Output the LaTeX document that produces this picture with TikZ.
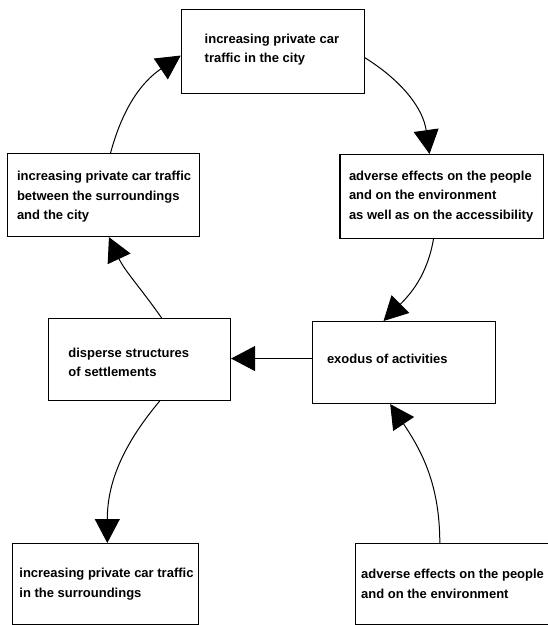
\documentclass[tikz,border=0pt]{standalone}
\usepackage{fontspec}
\setmainfont{Liberation Sans}
\usetikzlibrary{arrows.meta}
\begin{document}
\begin{tikzpicture}[x=1pt,y=1pt,
  box/.style={draw=black, line width=1.1pt, rectangle, inner sep=0pt, anchor=north west},
  txt/.style={anchor=west, inner sep=0pt, align=left, font=\fontsize{13}{19.5}\selectfont\bfseries},
  arr/.style={draw=black, line width=1pt, -{Triangle[length=24pt,width=25pt]}}]
\clip (0,0) rectangle (548,-625);
\fill[white] (0,0) rectangle (548,-625);
% boxes
\node[box, minimum width=182.8pt, minimum height=84pt] (b1) at (180.7,-9) {};
\node[box, minimum width=203.1pt, minimum height=84pt] (b2) at (339.4,-154) {};
\node[box, minimum width=192.2pt, minimum height=83pt] (b3) at (7,-153) {};
\node[box, minimum width=181.8pt, minimum height=82pt] (b4) at (48.2,-318) {};
\node[box, minimum width=182.5pt, minimum height=82pt] (b5) at (312.1,-321) {};
\node[box, minimum width=186.5pt, minimum height=81pt] (b6) at (11.5,-543) {};
\node[box, minimum width=215pt, minimum height=81pt] (b7) at (354.8,-543) {};
% texts
\node[txt] (t1) at ([xshift=23.8pt,yshift=2pt]b1.west) {increasing private car\\traffic in the city};
\node[txt] (t2) at ([xshift=9.4pt]b2.west) {adverse effects on the people\\and on the environment\\as well as on the accessibility};
\node[txt] (t3) at ([xshift=9.8pt,yshift=-2pt]b3.west) {increasing private car traffic\\between the surroundings\\and the city};
\node[txt] (t4) at ([xshift=20pt,yshift=-3pt]b4.west) {disperse structures\\of settlements};
\node[txt] (t5) at ([xshift=14.7pt,yshift=4pt]b5.west) {exodus of activities};
\node[txt] (t6) at ([xshift=7.7pt]b6.west) {increasing private car traffic\\in the surroundings};
\node[txt] (t7) at ([xshift=6.2pt]b7.west) {adverse effects on the people\\and on the environment};
% connectors
\draw[arr] ([xshift=6.9pt]b3.north) to[out=75,in=214] ([yshift=-4pt]b1.west);
\draw[arr] ([yshift=-6pt]b1.east) to[out=-32,in=98] ([xshift=-12pt]b2.north);
\draw[arr] ([xshift=-8pt]b2.south) to[out=-100,in=45] ([xshift=-20.4pt]b5.north);
\draw[arr] ([yshift=4pt]b5.west) -- ([yshift=4pt]b5.west -| b4.east);
\draw[arr] ([xshift=22pt]b4.north) to[out=125,in=-65] ([xshift=5.3pt]b3.south);
\draw[arr] ([xshift=20pt]b4.south) to[out=230,in=90] ([xshift=2pt]b6.north);
\draw[arr] ([xshift=85pt]b7.north west) to[out=90,in=-56] ([xshift=-13.7pt]b5.south);
\end{tikzpicture}
\end{document}
